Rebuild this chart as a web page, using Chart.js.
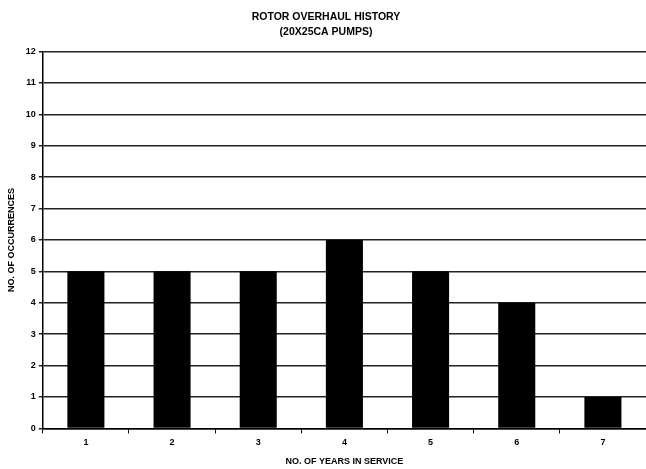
<!DOCTYPE html>
<html>
<head>
<meta charset="utf-8">
<script src="https://cdn.jsdelivr.net/npm/chart.js@4"></script>
<style>
  html, body { margin: 0; padding: 0; background: #fff; }
  #wrap { width: 646px; height: 469px; }
</style>
</head>
<body>
<div id="wrap"><canvas id="chart" width="646" height="469"></canvas></div>
<script>
const years = ["1", "2", "3", "4", "5", "6", "7"];
const occurrences = [5, 5, 5, 6, 5, 4, 1];
const titleLines = ["ROTOR OVERHAUL HISTORY", "(20X25CA PUMPS)"];

const ctx = document.getElementById("chart").getContext("2d");
const font = "'Liberation Sans', Arial, sans-serif";

new Chart(ctx, {
  type: "bar",
  data: {
    labels: years,
    datasets: [{
      data: occurrences,
      backgroundColor: "#000",
      borderWidth: 0,
      barPercentage: 0.43,
      categoryPercentage: 1
    }]
  },
  options: {
    responsive: false,
    animation: false,
    layout: { padding: { top: 5, right: 0, left: 6, bottom: 2 } },
    plugins: {
      legend: { display: false },
      tooltip: { enabled: false },
      title: {
        display: true,
        text: titleLines,
        color: "#000",
        font: { family: font, size: 10.5, weight: "bold", lineHeight: 1.45 },
        padding: { top: 4, bottom: 12 }
      }
    },
    scales: {
      x: {
        offset: true,
        grid: {
          offset: true,
          drawOnChartArea: false,
          color: "#000",
          tickLength: 5
        },
        border: { color: "#000", width: 1.5 },
        ticks: { color: "#000", font: { family: font, size: 9, weight: "bold" }, padding: 4 },
        title: {
          display: true,
          text: "NO. OF YEARS IN SERVICE",
          color: "#000",
          font: { family: font, size: 9, weight: "bold" },
          padding: { top: 4, bottom: 0 }
        }
      },
      y: {
        min: 0,
        max: 12,
        ticks: { stepSize: 1, color: "#000", font: { family: font, size: 9, weight: "bold" }, padding: 3 },
        grid: { color: "#222", lineWidth: 1.5, tickLength: 4 },
        border: { color: "#000", width: 1.5 },
        title: {
          display: true,
          text: "NO. OF OCCURRENCES",
          color: "#000",
          font: { family: font, size: 9, weight: "bold" },
          padding: { top: 0, bottom: 6 }
        }
      }
    }
  }
});
</script>
</body>
</html>
